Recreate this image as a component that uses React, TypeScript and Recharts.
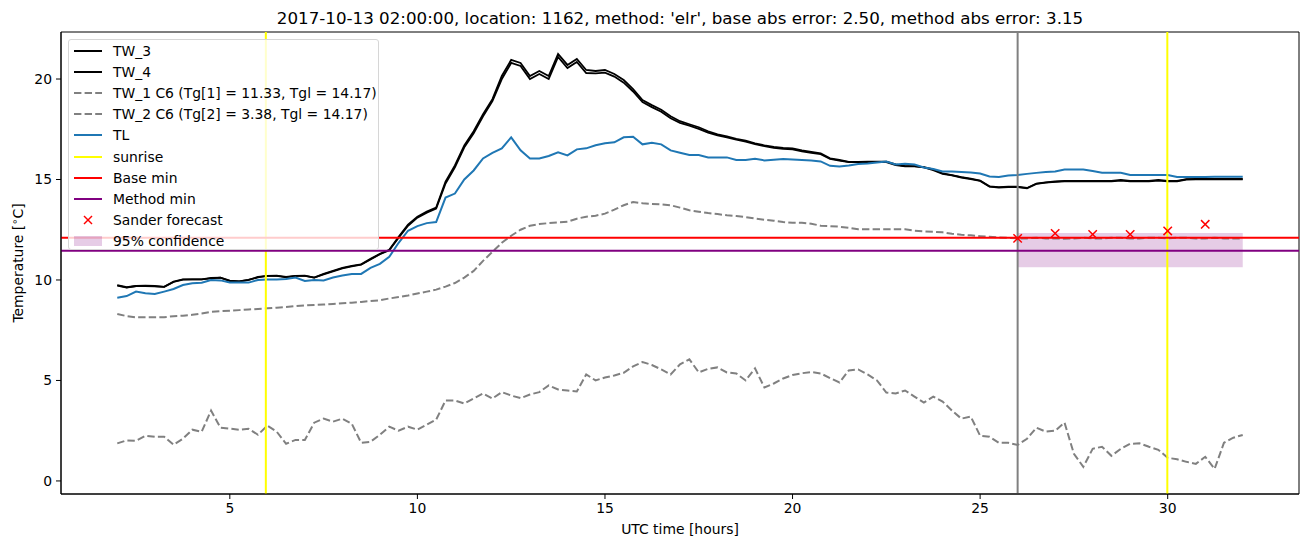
import {
  ComposedChart, Line, Scatter, XAxis, YAxis, ReferenceLine, ReferenceArea, Legend,
} from 'recharts';

// sampling grid: 2h .. 32h every 15 minutes
const hours = Array.from({ length: 121 }, (_, i) => 2 + i * 0.25);

const tw3 = [
  9.72, 9.62, 9.70, 9.70, 9.68, 9.66, 9.92, 10.03, 10.03, 10.03, 10.10, 10.12, 9.95, 9.93, 10.00, 10.15,
  10.20, 10.20, 10.13, 10.20, 10.20, 10.12, 10.30, 10.45, 10.60, 10.70, 10.78, 11.05, 11.30, 11.50, 12.15, 12.75,
  13.15, 13.40, 13.60, 14.90, 15.70, 16.70, 17.40, 18.25, 19.00, 20.15, 20.95, 20.80, 20.15, 20.40, 20.15, 21.25,
  20.70, 21.00, 20.45, 20.40, 20.45, 20.25, 19.95, 19.50, 18.95, 18.70, 18.47, 18.15, 17.90, 17.75, 17.60, 17.40,
  17.25, 17.15, 17.02, 16.93, 16.80, 16.70, 16.62, 16.57, 16.55, 16.45, 16.38, 16.30, 16.05, 15.97, 15.88, 15.88,
  15.89, 15.89, 15.89, 15.75, 15.67, 15.67, 15.62, 15.50, 15.30, 15.22, 15.12, 15.04, 14.95, 14.66, 14.62, 14.64,
  14.64, 14.58, 14.80, 14.86, 14.90, 14.93, 14.93, 14.93, 14.93, 14.93, 14.93, 14.98, 14.93, 14.93, 14.93, 14.98,
  14.93, 14.93, 15.02, 15.03, 15.03, 15.03, 15.03, 15.03, 15.03,
];

const tw4 = [
  9.75, 9.64, 9.70, 9.72, 9.70, 9.66, 9.90, 10.02, 10.03, 10.03, 10.08, 10.12, 9.97, 9.93, 10.00, 10.13,
  10.20, 10.22, 10.15, 10.20, 10.22, 10.12, 10.28, 10.43, 10.58, 10.68, 10.76, 11.02, 11.28, 11.48, 12.10, 12.70,
  13.10, 13.35, 13.55, 14.80, 15.60, 16.60, 17.30, 18.15, 18.90, 20.00, 20.80, 20.65, 20.00, 20.25, 20.00, 21.10,
  20.55, 20.85, 20.30, 20.28, 20.32, 20.12, 19.82, 19.38, 18.85, 18.60, 18.37, 18.05, 17.82, 17.68, 17.52, 17.33,
  17.20, 17.10, 16.98, 16.88, 16.76, 16.66, 16.58, 16.53, 16.50, 16.40, 16.33, 16.26, 16.02, 15.94, 15.86, 15.86,
  15.87, 15.87, 15.87, 15.72, 15.65, 15.65, 15.60, 15.47, 15.28, 15.20, 15.10, 15.02, 14.93, 14.64, 14.60, 14.62,
  14.62, 14.56, 14.78, 14.84, 14.88, 14.91, 14.91, 14.91, 14.91, 14.91, 14.91, 14.94, 14.91, 14.91, 14.91, 14.94,
  14.91, 14.91, 15.00, 15.01, 15.01, 15.01, 15.01, 15.01, 15.01,
];

const tw1 = [
  8.31, 8.20, 8.14, 8.14, 8.14, 8.15, 8.20, 8.22, 8.27, 8.33, 8.42, 8.45, 8.47, 8.50, 8.53, 8.56,
  8.59, 8.62, 8.65, 8.70, 8.73, 8.76, 8.78, 8.81, 8.84, 8.87, 8.91, 8.95, 8.99, 9.08, 9.15, 9.23,
  9.33, 9.42, 9.52, 9.67, 9.85, 10.12, 10.45, 10.95, 11.40, 11.85, 12.20, 12.50, 12.70, 12.78, 12.83, 12.86,
  12.90, 13.05, 13.15, 13.20, 13.30, 13.50, 13.72, 13.88, 13.82, 13.78, 13.76, 13.72, 13.60, 13.47, 13.40, 13.33,
  13.28, 13.22, 13.18, 13.13, 13.06, 13.00, 12.95, 12.88, 12.85, 12.85, 12.80, 12.70, 12.68, 12.65, 12.60, 12.52,
  12.52, 12.52, 12.52, 12.52, 12.52, 12.45, 12.42, 12.40, 12.37, 12.30, 12.25, 12.22, 12.18, 12.15, 12.12, 12.10,
  12.07, 12.07, 12.10, 12.07, 12.07, 12.05, 12.07, 12.10, 12.07, 12.07, 12.10, 12.10, 12.07, 12.07, 12.10, 12.10,
  12.07, 12.10, 12.10, 12.07, 12.07, 12.10, 12.07, 12.07, 12.07,
];

const tw2 = [
  1.87, 2.02, 2.00, 2.25, 2.20, 2.20, 1.80, 2.10, 2.55, 2.45, 3.50, 2.65, 2.60, 2.55, 2.60, 2.30,
  2.75, 2.45, 1.85, 2.04, 2.04, 2.90, 3.10, 2.95, 3.10, 2.85, 1.90, 1.95, 2.30, 2.70, 2.50, 2.70,
  2.55, 2.80, 3.05, 4.00, 4.00, 3.85, 4.10, 4.35, 4.10, 4.42, 4.25, 4.12, 4.30, 4.42, 4.75, 4.55,
  4.50, 4.45, 5.30, 5.00, 5.15, 5.25, 5.38, 5.70, 5.92, 5.77, 5.55, 5.30, 5.80, 6.05, 5.40, 5.58,
  5.65, 5.40, 5.35, 5.00, 5.60, 4.65, 4.85, 5.10, 5.27, 5.36, 5.42, 5.35, 5.12, 4.90, 5.50, 5.55,
  5.30, 5.00, 4.40, 4.35, 4.50, 4.20, 3.90, 4.20, 3.95, 3.50, 3.10, 3.20, 2.25, 2.20, 1.90, 1.90,
  1.79, 2.10, 2.65, 2.45, 2.50, 2.90, 1.35, 0.70, 1.60, 1.70, 1.25, 1.60, 1.85, 1.87, 1.70, 1.55,
  1.15, 1.08, 0.95, 0.85, 1.20, 0.60, 1.90, 2.15, 2.29,
];

const tl = [
  9.12, 9.20, 9.42, 9.34, 9.30, 9.42, 9.55, 9.75, 9.84, 9.86, 10.00, 9.98, 9.87, 9.87, 9.87, 10.00,
  10.03, 10.03, 10.05, 10.12, 9.95, 10.00, 9.98, 10.12, 10.22, 10.30, 10.30, 10.60, 10.80, 11.15, 11.85, 12.45,
  12.68, 12.83, 12.88, 14.10, 14.30, 15.00, 15.45, 16.05, 16.33, 16.55, 17.10, 16.45, 16.05, 16.05, 16.17, 16.35,
  16.20, 16.50, 16.55, 16.70, 16.80, 16.85, 17.10, 17.13, 16.75, 16.83, 16.75, 16.45, 16.33, 16.22, 16.22, 16.10,
  16.10, 16.10, 15.97, 15.97, 16.03, 15.95, 15.98, 16.02, 16.00, 15.97, 15.95, 15.90, 15.68, 15.65, 15.70, 15.77,
  15.80, 15.85, 15.89, 15.75, 15.78, 15.75, 15.60, 15.52, 15.40, 15.40, 15.37, 15.35, 15.30, 15.15, 15.13, 15.20,
  15.22, 15.28, 15.33, 15.37, 15.40, 15.50, 15.50, 15.50, 15.42, 15.34, 15.34, 15.34, 15.22, 15.22, 15.22, 15.22,
  15.22, 15.12, 15.12, 15.13, 15.13, 15.14, 15.14, 15.14, 15.14,
];

const forecastHours = [26, 27, 28, 29, 30, 31];
const forecastValues = [12.07, 12.32, 12.27, 12.27, 12.44, 12.77];

const sunrise = [5.96, 29.99];
const forecastStart = 26;
const baseMin = 12.1;
const methodMin = 11.46;
const confidence = { from: 26, to: 32, low: 10.63, high: 12.34 };

const xTicks = [5, 10, 15, 20, 25, 30];
const yTicks = [0, 5, 10, 15, 20];

const title = "2017-10-13 02:00:00, location: 1162, method: 'elr', base abs error: 2.50, method abs error: 3.15";

const rows = hours.map((t, i) => ({ t, tw3: tw3[i], tw4: tw4[i], tw1: tw1[i], tw2: tw2[i], tl: tl[i] }));
const forecast = forecastHours.map((t, i) => ({ t, v: forecastValues[i] }));

const FONT = '"DejaVu Sans", sans-serif';
const DASH = '7.4 3.2';

const legendItems = [
  { label: 'TW_3', kind: 'line', color: '#000000' },
  { label: 'TW_4', kind: 'line', color: '#000000' },
  { label: 'TW_1 C6 (Tg[1] = 11.33, Tgl = 14.17)', kind: 'dash', color: '#808080' },
  { label: 'TW_2 C6 (Tg[2] = 3.38, Tgl = 14.17)', kind: 'dash', color: '#808080' },
  { label: 'TL', kind: 'line', color: '#1f77b4' },
  { label: 'sunrise', kind: 'line', color: '#ffff00' },
  { label: 'Base min', kind: 'line', color: '#ff0000' },
  { label: 'Method min', kind: 'line', color: '#800080' },
  { label: 'Sander forecast', kind: 'x', color: '#ff0000' },
  { label: '95% confidence', kind: 'patch', color: '#800080' },
];

function LegendBox() {
  return (
    <div
      style={{
        width: 311, height: 211, boxSizing: 'border-box', background: 'rgba(255,255,255,0.8)',
        border: '1px solid #d6d6d6', borderRadius: 3, padding: '0 0 0 4px', fontFamily: FONT, fontSize: 13.9,
      }}
    >
      {legendItems.map((it, i) => (
        <div key={i} style={{ height: 21.1, display: 'flex', alignItems: 'center', marginTop: i === 0 ? 0.5 : 0 }}>
          <svg width={30} height={14} style={{ marginRight: 10, flex: 'none' }}>
            {it.kind === 'line' && <line x1={1} x2={29} y1={7} y2={7} stroke={it.color} strokeWidth={2} />}
            {it.kind === 'dash' && <line x1={1} x2={29} y1={7} y2={7} stroke={it.color} strokeWidth={2} strokeDasharray={DASH} />}
            {it.kind === 'x' && (
              <g stroke={it.color} strokeWidth={1.5}>
                <line x1={11} x2={19} y1={3} y2={11} />
                <line x1={11} x2={19} y1={11} y2={3} />
              </g>
            )}
            {it.kind === 'patch' && <rect x={1} y={2} width={28} height={10} fill={it.color} fillOpacity={0.2} />}
          </svg>
          <span style={{ whiteSpace: 'nowrap', color: '#000' }}>{it.label}</span>
        </div>
      ))}
    </div>
  );
}

function XMark(props: any) {
  const { cx, cy } = props;
  const r = 4.2;
  return (
    <g stroke="#ff0000" strokeWidth={1.5}>
      <line x1={cx - r} x2={cx + r} y1={cy - r} y2={cy + r} />
      <line x1={cx - r} x2={cx + r} y1={cy + r} y2={cy - r} />
    </g>
  );
}

export default function App() {
  const tick = { fontFamily: FONT, fontSize: 13.9, fill: '#000' };
  return (
    <div style={{ position: 'absolute', left: 0, top: 0, width: 1310, height: 547, background: '#fff' }}>
      <div
        style={{
          position: 'absolute', left: 61, top: 8, width: 1238, textAlign: 'center',
          fontFamily: FONT, fontSize: 16.7, color: '#000', whiteSpace: 'nowrap',
        }}
      >
        {title}
      </div>
      <ComposedChart width={1310} height={547} data={rows} margin={{ top: 32, right: 11, bottom: 13, left: 11 }}>
        <XAxis
          dataKey="t" type="number" domain={[0.5, 33.5]} ticks={xTicks} allowDataOverflow
          height={40} tickSize={5} tickMargin={4} tick={tick} stroke="#000" interval={0}
        />
        <YAxis
          type="number" domain={[-0.65, 22.34]} ticks={yTicks} allowDataOverflow
          width={50} tickSize={5} tickMargin={4} tick={tick} stroke="#000" interval={0}
        />
        <Line dataKey="tw3" stroke="#000" strokeWidth={1.8} dot={false} isAnimationActive={false} />
        <Line dataKey="tw4" stroke="#000" strokeWidth={1.8} dot={false} isAnimationActive={false} />
        <Line dataKey="tw1" stroke="#808080" strokeWidth={2} strokeDasharray={DASH} dot={false} isAnimationActive={false} />
        <Line dataKey="tw2" stroke="#808080" strokeWidth={2} strokeDasharray={DASH} dot={false} isAnimationActive={false} />
        <Line dataKey="tl" stroke="#1f77b4" strokeWidth={2} dot={false} isAnimationActive={false} />
        <ReferenceLine x={forecastStart} stroke="#808080" strokeWidth={2} />
        {sunrise.map((s) => (
          <ReferenceLine key={s} x={s} stroke="#ffff00" strokeWidth={2} />
        ))}
        <ReferenceLine y={baseMin} stroke="#ff0000" strokeWidth={2} />
        <ReferenceLine y={methodMin} stroke="#800080" strokeWidth={2} />
        <Scatter data={forecast} dataKey="v" shape={XMark} isAnimationActive={false} />
        <ReferenceArea
          x1={confidence.from} x2={confidence.to} y1={confidence.low} y2={confidence.high}
          fill="#800080" fillOpacity={0.2} stroke="none"
        />
        <ReferenceArea x1={0.5} x2={33.5} y1={-0.65} y2={22.34} fill="none" stroke="#000" strokeWidth={1} />
        <Legend
          layout="vertical" align="center" verticalAlign="middle"
          wrapperStyle={{ left: 68, top: 39, width: 311 }}
          content={() => <LegendBox />}
        />
        <text x={680} y={534} textAnchor="middle" fontFamily={FONT} fontSize={13.9} fill="#000">
          UTC time [hours]
        </text>
        <text x={23} y={263} textAnchor="middle" fontFamily={FONT} fontSize={13.9} fill="#000" transform="rotate(-90 23 263)">
          Temperature [<tspan fontSize={10} dy={-5}>∘</tspan><tspan dy={5}>C]</tspan>
        </text>
      </ComposedChart>
    </div>
  );
}
